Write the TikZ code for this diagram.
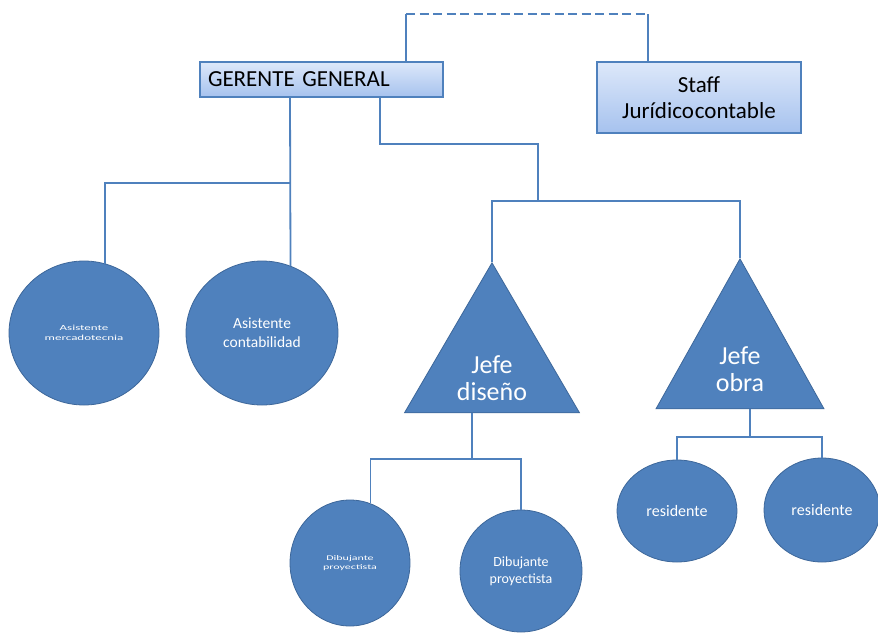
\documentclass[tikz,border=0pt]{standalone}
\usepackage{fontspec}
\setmainfont{Carlito}
\usetikzlibrary{shapes.geometric, positioning}
\definecolor{orgblue}{HTML}{4F81BD}
\definecolor{orgedge}{HTML}{3D679A}
\definecolor{boxtop}{HTML}{DDE8FA}
\definecolor{boxbot}{HTML}{A6C2EE}
\newcommand{\fsz}[1]{\fontsize{#1}{1.2\dimexpr#1pt\relax}\selectfont}
\newcommand{\squash}[1]{\scalebox{1}[0.6]{#1}}
\tikzset{
    boxnode/.style={draw=orgblue, line width=1.8pt, top color=boxtop,
        bottom color=boxbot, inner sep=0pt, align=center},
    bubble/.style={ellipse, fill=orgblue, draw=orgedge, line width=.8pt,
        text=white, align=center, inner sep=0pt},
    chief/.style={isosceles triangle, isosceles triangle apex angle=60,
        isosceles triangle stretches, shape border rotate=90, fill=orgblue,
        draw=orgedge, line width=.8pt, text=white, align=center,
        inner sep=0pt, anchor=apex},
    link/.style={draw=orgblue, line width=1.8pt},
}

\begin{document}
\begin{tikzpicture}[x=1pt, y=-1pt]
    \useasboundingbox (0,0) rectangle (878,632);
    % top boxes
    \node[boxnode, minimum width=243pt, minimum height=35pt,
        text width=227pt, align=left, font=\fsz{23}] (gerente)
        at (321.5,79.5) {GERENTE GENERAL};
    \node[boxnode, minimum width=204pt, minimum height=71pt, font=\fsz{23}]
        (staff) at (699,97.5) {Staff\\[-2pt]Jurídico\hspace{1pt}contable};
    % assistants
    \node[bubble, minimum width=150pt, minimum height=144pt, font=\fsz{13}]
        (asist1) at (84,333)
        {\squash{Asistente}\\[-6pt]\squash{mercadotecnia}};
    \node[bubble, minimum width=152pt, minimum height=144pt,
        font=\fsz{15.5}] (asist2) at (262,333) {Asistente\\contabilidad};
    % chiefs
    \node[chief, minimum width=175pt, minimum height=150pt, font=\fsz{26}]
        (diseno) at (492,262) {\\[-4pt]Jefe\\[-4pt]diseño};
    \node[chief, minimum width=168pt, minimum height=150pt, font=\fsz{26}]
        (obra) at (740,258) {\\[-4pt]Jefe\\[-4pt]obra};
    % staff under the chiefs
    \node[bubble, minimum width=120pt, minimum height=126pt, font=\fsz{12}]
        (dib1) at (350,563)
        {\squash{Dibujante}\\[-5pt]\squash{proyectista}};
    \node[bubble, minimum width=122pt, minimum height=122pt,
        font=\fsz{14}] (dib2) at (521,571) {Dibujante\\proyectista};
    \node[bubble, minimum width=120pt, minimum height=102pt,
        font=\fsz{16}] (res1) at (677,511) {residente};
    \node[bubble, minimum width=116pt, minimum height=104pt,
        font=\fsz{16}] (res2) at (822,510) {residente};
    % connectors
    \draw[link] ([xshift=84.5pt]gerente.north) -- ++(0,-47) coordinate (staffl);
    \draw[link] ([xshift=-51pt]staff.north) -- ++(0,-47) coordinate (staffr);
    \draw[link, line width=2.6pt, dash pattern=on 9pt off 4.5pt]
        (staffl) -- (staffr);
    \draw[link] ([xshift=-31.5pt]gerente.south) -- (asist2.67);
    \coordinate (asistbus) at (290,183);
    \draw[link] (asistbus) -| (asist1.73);
    \draw[link] ([xshift=58.5pt]gerente.south) |- ++(158,46)
        -- ++(0,57) coordinate (chiefbus);
    \draw[link] (diseno.apex) |- (chiefbus) -| (obra.apex);
    \draw[link] ([xshift=-20pt]diseno.south) -- ++(0,46) coordinate (dibbus);
    \draw[link] (dib1.71) |- (dibbus) -| (dib2.north);
    \draw[link] ([xshift=10pt]obra.south) -- ++(0,28) coordinate (resbus);
    \draw[link] (res1.north) |- (resbus) -| (res2.north);
\end{tikzpicture}
\end{document}
